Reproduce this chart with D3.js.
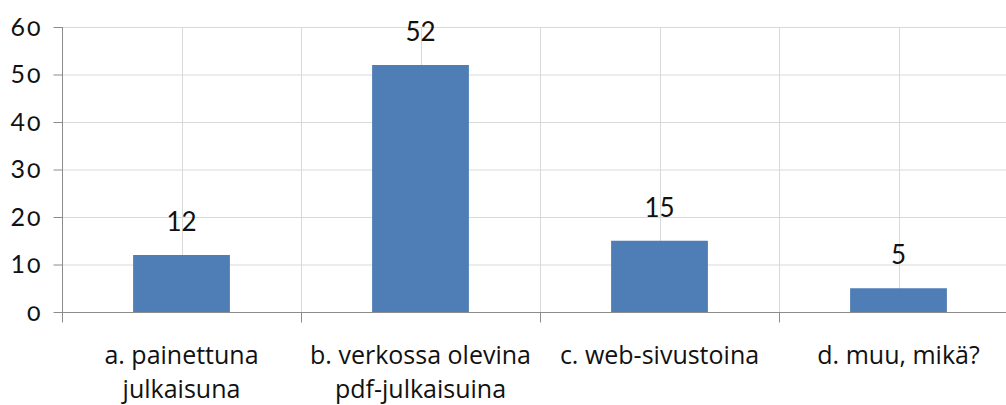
<!DOCTYPE html>
<html>
<head>
<meta charset="utf-8">
<script src="https://cdn.jsdelivr.net/npm/d3@7"></script>
<style>
  html, body { margin: 0; padding: 0; background: #fff; }
  svg { display: block; }
  .num { font-family: "Lato", "Noto Sans", sans-serif; fill: #111; }
  .num .zero { font-variant-numeric: oldstyle-nums; }
  .cat { font-family: "Open Sans", "Noto Sans", sans-serif; fill: #111; }
</style>
</head>
<body>
<div id="chart"></div>
<script>
// chart data
const categories = ["a", "b", "c", "d"];
const categoryLabels = [
  ["a. painettuna", "julkaisuna"],
  ["b. verkossa olevina", "pdf-julkaisuina"],
  ["c. web-sivustoina"],
  ["d. muu, mikä?"]
];
const values = [12, 52, 15, 5];
const yTicks = [0, 10, 20, 30, 40, 50, 60];

const width = 1006, height = 405;
const plot = { left: 62, right: 1018, top: 27, bottom: 312 };

const svg = d3.select('#chart').append('svg')
  .attr('width', width)
  .attr('height', height);

const x = d3.scaleBand()
  .domain(categories)
  .range([plot.left, plot.right])
  .padding(0);

const y = d3.scaleLinear()
  .domain([0, 60])
  .range([plot.bottom, plot.top]);

const bw = x.bandwidth();

// horizontal grid
svg.append('g')
  .selectAll('line')
  .data(yTicks)
  .join('line')
  .attr('x1', plot.left).attr('x2', plot.right)
  .attr('y1', d => y(d) + 0.5).attr('y2', d => y(d) + 0.5)
  .attr('stroke', '#d9d9d9');

// vertical grid, at band edges and centres
const vLines = [];
categories.forEach(c => { vLines.push(x(c)); vLines.push(x(c) + bw / 2); });
vLines.push(plot.right);
svg.append('g')
  .selectAll('line')
  .data(vLines.slice(1))
  .join('line')
  .attr('x1', d => Math.round(d) + 0.5).attr('x2', d => Math.round(d) + 0.5)
  .attr('y1', plot.top).attr('y2', plot.bottom)
  .attr('stroke', '#d9d9d9');

// bars
const barW = bw * 0.405;
svg.append('g')
  .selectAll('rect')
  .data(values)
  .join('rect')
  .attr('x', (d, i) => x(categories[i]) + bw / 2 - barW / 2)
  .attr('y', d => y(d))
  .attr('width', barW)
  .attr('height', d => y(0) - y(d))
  .attr('fill', '#4f7db5');

// value labels
svg.append('g')
  .selectAll('text')
  .data(values)
  .join('text')
  .attr('class', 'num')
  .attr('x', (d, i) => x(categories[i]) + bw / 2)
  .attr('y', d => y(d) - 24)
  .attr('text-anchor', 'middle')
  .attr('font-size', 26)
  .text(d => d);

// y axis
const yAxis = svg.append('g')
  .attr('transform', `translate(${plot.left + 0.5},0)`)
  .call(d3.axisLeft(y).tickValues(yTicks).tickSize(9).tickPadding(13));
yAxis.select('.domain')
  .attr('stroke', '#8c8c8c')
  .attr('d', `M0,${plot.top}V${plot.bottom + 9}`);
yAxis.selectAll('.tick line').attr('stroke', '#8c8c8c');
// the source font draws its zero as a small round "o"
yAxis.selectAll('.tick text')
  .attr('class', 'num')
  .attr('font-size', 25)
  .attr('font-family', null)
  .attr('fill', '#111')
  .text(null)
  .selectAll('tspan')
  .data(d => String(d).split(''))
  .join('tspan')
  .attr('class', ch => ch === '0' ? 'zero' : null)
  .attr('dx', (ch, i) => ch === '0' && i > 0 ? 2 : null)
  .text(ch => ch);

// x axis
const xAxis = svg.append('g')
  .attr('transform', `translate(0,${plot.bottom + 0.5})`);
xAxis.append('line')
  .attr('x1', plot.left).attr('x2', plot.right)
  .attr('stroke', '#8c8c8c');
xAxis.selectAll('.xt')
  .data(categories.concat(['end']))
  .join('line')
  .attr('class', 'xt')
  .attr('x1', (d, i) => Math.round(i < categories.length ? x(d) : plot.right) + 0.5)
  .attr('x2', (d, i) => Math.round(i < categories.length ? x(d) : plot.right) + 0.5)
  .attr('y1', 0).attr('y2', 10)
  .attr('stroke', '#8c8c8c');

// category labels
const labels = svg.append('g')
  .selectAll('text')
  .data(categoryLabels)
  .join('text')
  .attr('class', 'cat')
  .attr('font-size', 25)
  .attr('text-anchor', 'middle')
  .attr('x', (d, i) => x(categories[i]) + bw / 2)
  .attr('y', 364);
labels.selectAll('tspan')
  .data(d => d)
  .join('tspan')
  .attr('x', function () { return this.parentNode.getAttribute('x'); })
  .attr('dy', (d, i) => i === 0 ? 0 : 34)
  .text(d => d);
</script>
</body>
</html>
